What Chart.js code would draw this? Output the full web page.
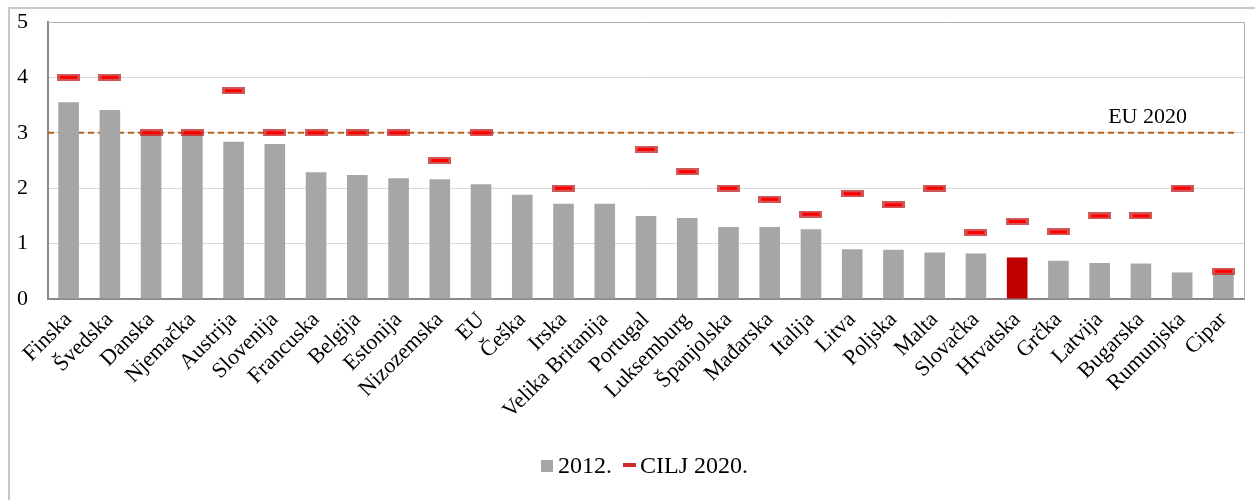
<!DOCTYPE html>
<html lang="hr">
<head>
    <meta charset="UTF-8">
    <title>Ulaganja u istraživanje i razvoj</title>
    <style>
        body {
            margin: 0;
            background: white;
            font-family: "Liberation Serif", "DejaVu Serif", serif;
        }
        .frame {
            position: absolute;
            left: 8px;
            top: 7px;
            width: 1260px;
            height: 520px;
            border: 2px solid #c8c8c8;
        }
        .chart-box {
            position: absolute;
            left: 0;
            top: 0;
            width: 1255px;
            height: 500px;
        }
        .legend {
            position: absolute;
            left: 541px;
            top: 452px;
            font-size: 24px;
            line-height: 26px;
            color: #000;
            white-space: nowrap;
        }
        .legend span.box {
            display: inline-block;
            width: 12px;
            height: 12px;
            background: #a6a6a6;
            margin-right: 5px;
            vertical-align: 1px;
        }
        .legend span.dash {
            display: inline-block;
            width: 13px;
            height: 4px;
            background: #d02a2a;
            margin-left: 8px;
            margin-right: 4px;
            vertical-align: 6px;
        }
    </style>
</head>
<body>
    <div class="frame"></div>
    <div class="chart-box">
        <canvas id="chart"></canvas>
    </div>
    <div class="legend" id="legend"></div>

    <script src="https://cdn.jsdelivr.net/npm/chart.js"></script>
    <script>
        const categories = ['Finska', 'Švedska', 'Danska', 'Njemačka', 'Austrija', 'Slovenija', 'Francuska',
            'Belgija', 'Estonija', 'Nizozemska', 'EU', 'Češka', 'Irska', 'Velika Britanija', 'Portugal',
            'Luksemburg', 'Španjolska', 'Mađarska', 'Italija', 'Litva', 'Poljska', 'Malta', 'Slovačka',
            'Hrvatska', 'Grčka', 'Latvija', 'Bugarska', 'Rumunjska', 'Cipar'];
        const values2012 = [3.55, 3.41, 2.99, 2.98, 2.84, 2.80, 2.29, 2.24, 2.18, 2.16, 2.07, 1.88, 1.72, 1.72,
            1.50, 1.46, 1.30, 1.30, 1.26, 0.90, 0.89, 0.84, 0.82, 0.75, 0.69, 0.65, 0.64, 0.48, 0.46];
        const target2020 = [4, 4, 3, 3, 3.76, 3, 3, 3, 3, 2.5, 3, null, 2, null, 2.7, 2.3, 2, 1.8, 1.53,
            1.9, 1.7, 2, 1.2, 1.4, 1.21, 1.5, 1.5, 2, 0.5];
        const euTarget = 3;
        const euLabel = 'EU 2020';
        const seriesNames = ['2012.', 'CILJ 2020.'];
        const highlight = 'Hrvatska';

        const serif = '"Liberation Serif", "DejaVu Serif", serif';

        function makeMarker(w, h, inner) {
            const c = document.createElement('canvas');
            c.width = w;
            c.height = h;
            const g = c.getContext('2d');
            g.fillStyle = 'rgba(195, 45, 45, 0.8)';
            g.fillRect(0, 0, w, h);
            g.fillStyle = '#ff0000';
            g.fillRect(3, (h - inner) / 2, w - 6, inner);
            return c;
        }
        const marker = makeMarker(23, 7, 3);

        // plot frame + dashed EU 2020 line, under the markers
        const extras = {
            id: 'extras',
            beforeDatasetsDraw(chart) {
                const { ctx, chartArea: a, scales } = chart;
                ctx.save();
                ctx.strokeStyle = '#b0b0b0';
                ctx.lineWidth = 1;
                ctx.beginPath();
                ctx.moveTo(a.left, a.top + 0.5);
                ctx.lineTo(a.right + 0.5, a.top + 0.5);
                ctx.lineTo(a.right + 0.5, a.bottom);
                ctx.stroke();

                const y = scales.y.getPixelForValue(euTarget);
                ctx.strokeStyle = '#b8601a';
                ctx.lineWidth = 2;
                ctx.setLineDash([6, 4]);
                ctx.beginPath();
                ctx.moveTo(a.left, y);
                ctx.lineTo(a.right - 8, y);
                ctx.stroke();
                ctx.setLineDash([]);
                ctx.fillStyle = '#000';
                ctx.font = '22px ' + serif;
                ctx.textAlign = 'right';
                ctx.textBaseline = 'alphabetic';
                ctx.fillText(euLabel, a.right - 57, y - 10);
                ctx.restore();
            }
        };

        new Chart(document.getElementById('chart'), {
            type: 'bar',
            data: {
                labels: categories,
                datasets: [
                    {
                        type: 'line',
                        label: seriesNames[1],
                        data: target2020,
                        showLine: false,
                        pointStyle: marker,
                        pointRadius: 12,
                        pointHoverRadius: 12,
                        order: 0
                    },
                    {
                        label: seriesNames[0],
                        data: values2012,
                        backgroundColor: categories.map(c => c === highlight ? '#c00000' : '#a6a6a6'),
                        barPercentage: 0.5,
                        categoryPercentage: 1,
                        order: 1
                    }
                ]
            },
            options: {
                responsive: true,
                maintainAspectRatio: false,
                animation: false,
                layout: { autoPadding: false, padding: { left: 0, right: 11, top: 22, bottom: 0 } },
                scales: {
                    x: {
                        offset: true,
                        afterFit(scale) { scale.height = 201; },
                        grid: { display: false },
                        border: { color: '#898989', width: 2 },
                        ticks: {
                            color: '#000',
                            font: { family: serif, size: 22 },
                            minRotation: 45,
                            maxRotation: 45,
                            autoSkip: false,
                            padding: 0
                        }
                    },
                    y: {
                        min: 0,
                        max: 5,
                        afterFit(scale) {
                            scale.width = 48;
                            scale.paddingTop = 0;
                            scale.paddingBottom = 0;
                        },
                        grid: {
                            drawTicks: false,
                            color: ctx => (ctx.tick.value === 0 || ctx.tick.value === 5) ? 'rgba(0,0,0,0)' : '#d9d9d9'
                        },
                        border: { color: '#898989', width: 2 },
                        ticks: {
                            stepSize: 1,
                            color: '#000',
                            font: { family: serif, size: 22 },
                            padding: 20
                        }
                    }
                },
                plugins: {
                    tooltip: { enabled: false },
                    legend: { display: false }
                }
            },
            plugins: [extras]
        });

        document.getElementById('legend').innerHTML =
            `<span class="box"></span>${seriesNames[0]}<span style="display:inline-block;width:3px"></span>` +
            `<span class="dash"></span>${seriesNames[1]}`;
    </script>
</body>
</html>
